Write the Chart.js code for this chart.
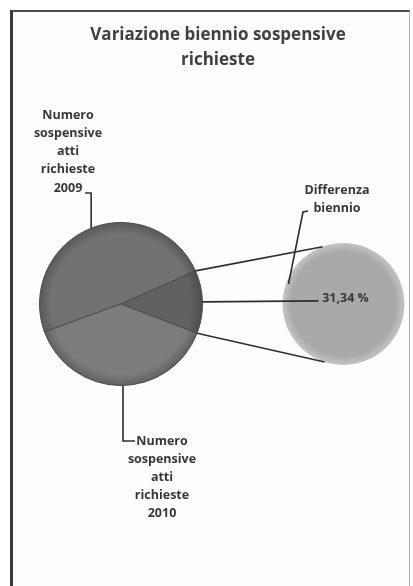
<!DOCTYPE html>
<html><head><meta charset="utf-8">
<script src="https://cdn.jsdelivr.net/npm/chart.js@4/dist/chart.umd.min.js"></script>
<style>
html,body{margin:0;padding:0;background:#fff;}
#wrap{position:relative;width:413px;height:586px;overflow:hidden;background:#fff;}
#frame{position:absolute;left:10px;top:10px;width:400px;height:580px;border-left:3px solid #3a3a3a;border-top:2px solid #4a4a4a;border-right:1px solid #b0b0b0;box-sizing:border-box;background:#fdfdfd;}
canvas{position:absolute;left:0;top:0;}
</style></head><body>
<div id="wrap"><div id="frame"></div>
<canvas id="c1" width="413" height="586" style="width:413px;height:586px"></canvas>
<canvas id="c2" width="413" height="586" style="width:413px;height:586px"></canvas>
</div>
<script>
// ---- data ----
const titleLines = ['Variazione biennio sospensive', 'richieste'];
const categories = ['Numero sospensive atti richieste 2009', 'Differenza biennio', 'Numero sospensive atti richieste 2010'];
const mainValues = [48.9, 12.5, 38.6];
const secondaryCategories = ['Differenza biennio'];
const secondaryValues = [12.5];
const secondaryValueLabels = ['31,34 %'];
const labelLines2009 = ['Numero', 'sospensive', 'atti', 'richieste', '2009'];
const labelLines2010 = ['Numero', 'sospensive', 'atti', 'richieste', '2010'];
const labelLinesDiff = ['Differenza', 'biennio'];

const FONT = '"Open Sans", Lato, sans-serif';
const TXT = '#383838';
const LINE = '#2e2e2e';

function radialFill(bases, rims) {
  return function(ctx) {
    const i = ctx.dataIndex || 0;
    const base = bases[i % bases.length], rim = rims[i % rims.length];
    const chart = ctx.chart;
    const a = chart.chartArea;
    if (!a) return base;
    const cx = (a.left + a.right) / 2, cy = (a.top + a.bottom) / 2;
    const r = Math.min(a.right - a.left, a.bottom - a.top) / 2;
    if (!(r > 0)) return base;
    const g = chart.ctx.createRadialGradient(cx, cy, 0, cx, cy, r);
    g.addColorStop(0, base);
    g.addColorStop(0.86, base);
    g.addColorStop(1, rim);
    return g;
  };
}

const chart1 = new Chart(document.getElementById('c1'), {
  type: 'pie',
  data: {
    labels: categories,
    datasets: [{
      data: mainValues,
      backgroundColor: radialFill(['#717171', '#616161', '#7c7c7c'], ['#585858', '#4c4c4c', '#606060']),
      borderColor: '#4a4a4a',
      borderWidth: 1
    }]
  },
  options: {
    responsive: false,
    animation: false,
    rotation: 250,
    layout: { padding: { left: 39, right: 210, top: 222, bottom: 200 } },
    plugins: { legend: { display: false }, tooltip: { enabled: false }, title: { display: false } }
  }
});

function pt(arc, ang, rf) {
  const r = arc.outerRadius * (rf === undefined ? 1 : rf);
  return [arc.x + r * Math.cos(ang), arc.y + r * Math.sin(ang)];
}
function line(ctx, pts) {
  ctx.beginPath();
  ctx.moveTo(pts[0][0], pts[0][1]);
  for (let i = 1; i < pts.length; i++) ctx.lineTo(pts[i][0], pts[i][1]);
  ctx.stroke();
}
function textBlock(ctx, lines, cx, cy, step) {
  lines.forEach((t, i) => ctx.fillText(t, cx, cy + i * step));
}

const overlay = {
  id: 'overlay',
  afterDraw(chart) {
    const ctx = chart.ctx;
    const m1 = chart1.getDatasetMeta(0).data;
    const s = chart.getDatasetMeta(0).data[0];
    const other = m1[1];
    const deg = Math.PI / 180;
    ctx.save();
    // title
    ctx.fillStyle = '#404040';
    ctx.textAlign = 'center';
    ctx.textBaseline = 'middle';
    ctx.font = 'bold 17px ' + FONT;
    ctx.fillText(titleLines[0], 218, 35);
    ctx.fillText(titleLines[1], 218, 60);

    ctx.strokeStyle = LINE;
    ctx.lineWidth = 1.6;
    // connector lines from "other" slice to secondary pie
    line(ctx, [pt(other, other.startAngle), pt(s, -110 * deg)]);
    line(ctx, [pt(other, other.endAngle), pt(s, 108 * deg)]);

    // leader for value label 31,34 %
    const mid = (other.startAngle + other.endAngle) / 2;
    const pm = pt(other, mid);
    line(ctx, [pm, [s.x - 25, pm[1] - 1]]);

    // leader 2009
    const a09 = m1[0];
    const p09 = pt(a09, 248.5 * deg);
    line(ctx, [p09, [p09[0], 193], [p09[0] - 6, 193]]);
    // leader 2010
    const a10 = m1[2];
    const p10 = pt(a10, 88.6 * deg);
    line(ctx, [p10, [p10[0], 441], [p10[0] + 12, 441]]);
    // leader Differenza
    const pd = pt(s, 200 * deg, 0.96);
    line(ctx, [pd, [303, 212], [308, 211]]);

    // labels
    ctx.fillStyle = TXT;
    ctx.font = 'bold 12.5px ' + FONT;
    textBlock(ctx, labelLines2009, 68, 115, 18.3);
    textBlock(ctx, labelLines2010, 162, 441, 18);
    textBlock(ctx, labelLinesDiff, 337, 190, 18);
    ctx.fillText(secondaryValueLabels[0], s.x + 2, pm[1] - 3);
    ctx.restore();
  }
};

const chart2 = new Chart(document.getElementById('c2'), {
  type: 'pie',
  data: {
    labels: secondaryCategories,
    datasets: [{
      data: secondaryValues,
      backgroundColor: radialFill(['#a9a9a9'], ['#c4c4c4']),
      borderWidth: 0
    }]
  },
  options: {
    responsive: false,
    animation: false,
    layout: { padding: { left: 282, right: 8, top: 243, bottom: 221 } },
    plugins: { legend: { display: false }, tooltip: { enabled: false }, title: { display: false } }
  },
  plugins: [overlay]
});
</script>
</body></html>
